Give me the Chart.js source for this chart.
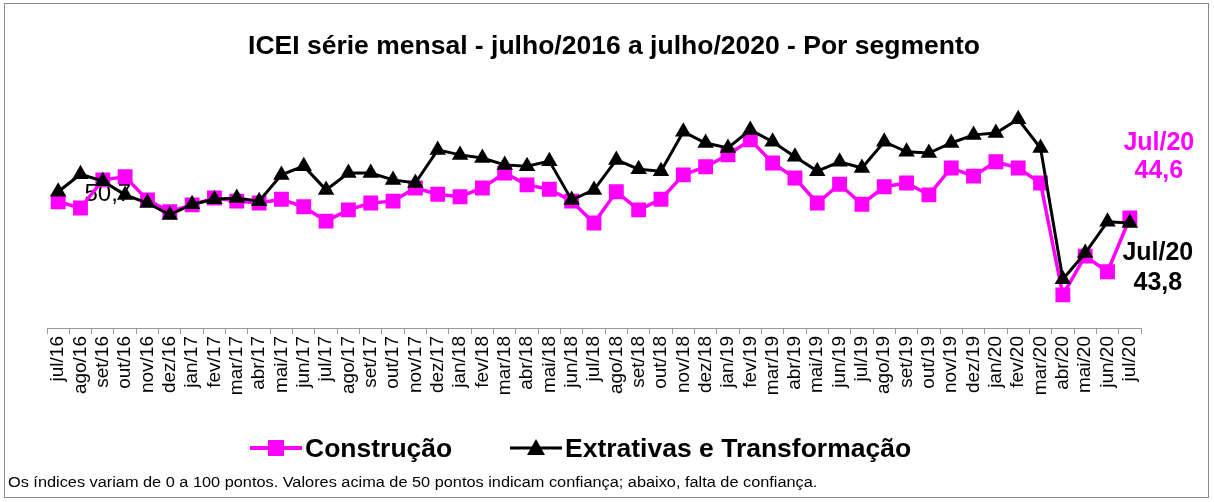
<!DOCTYPE html>
<html>
<head>
<meta charset="utf-8">
<script src="https://cdn.jsdelivr.net/npm/chart.js@4.4.1/dist/chart.umd.min.js"></script>
<style>
html,body{margin:0;padding:0;background:#fff;}
#wrap{position:relative;width:1214px;height:502px;overflow:hidden;font-family:"Liberation Sans",Arial,sans-serif;color:#000;}
#frame{position:absolute;left:4px;top:3px;width:1205px;height:495px;border:1px solid #8c8c8c;box-sizing:border-box;}
#c{position:absolute;left:0;top:0;}
#title{position:absolute;left:7px;width:1214px;top:29px;text-align:center;font-weight:bold;font-size:26.5px;white-space:nowrap;line-height:32px;}
.leg{position:absolute;top:433px;font-weight:bold;font-size:26.5px;white-space:nowrap;line-height:30px;}
.leg svg{position:absolute;top:3px;}
#note{position:absolute;left:8px;top:474px;font-size:14px;white-space:nowrap;transform:scaleX(1.165);transform-origin:0 0;}
</style>
</head>
<body>
<div id="wrap">
  <div id="frame"></div>
  <canvas id="c" width="1214" height="502"></canvas>
  <div id="title">ICEI série mensal - julho/2016 a julho/2020 - Por segmento</div>
  <div class="leg" style="left:248px;">
    <svg width="56" height="24" style="left:0"><line x1="2" y1="12" x2="54" y2="12" stroke="#FF00FF" stroke-width="4"/><rect x="20" y="4" width="16" height="16" fill="#FF00FF"/></svg>
    <span style="position:absolute;left:57px;">Construção</span>
  </div>
  <div class="leg" style="left:508px;">
    <svg width="56" height="24" style="left:0"><line x1="2" y1="12" x2="54" y2="12" stroke="#000" stroke-width="3"/><polygon points="28,3 37,19 19,19" fill="#000"/></svg>
    <span style="position:absolute;left:57px;">Extrativas e Transformação</span>
  </div>
  <div id="note">Os índices variam de 0 a 100 pontos. Valores acima de 50 pontos indicam confiança; abaixo, falta de confiança.</div>
</div>
<script>
const categories = ['jul/16','ago/16','set/16','out/16','nov/16','dez/16','jan/17','fev/17','mar/17','abr/17','mai/17','jun/17',
  'jul/17','ago/17','set/17','out/17','nov/17','dez/17','jan/18','fev/18','mar/18','abr/18','mai/18','jun/18',
  'jul/18','ago/18','set/18','out/18','nov/18','dez/18','jan/19','fev/19','mar/19','abr/19','mai/19','jun/19',
  'jul/19','ago/19','set/19','out/19','nov/19','dez/19','jan/20','fev/20','mar/20','abr/20','mai/20','jun/20','jul/20'];
const construcao = [47.2,46.2,50.7,51.2,47.5,45.6,46.7,47.8,47.3,47.0,47.6,46.4,
  44.1,45.9,47.0,47.3,49.4,48.4,48.0,49.4,51.8,49.9,49.2,47.3,
  43.8,48.8,45.9,47.6,51.5,52.8,54.7,57.1,53.4,51.0,47.0,50.0,
  46.8,49.6,50.2,48.3,52.6,51.3,53.6,52.6,50.2,32.3,38.5,36.0,44.6];
const extrativas = [48.8,51.6,50.5,48.3,47.0,45.1,46.8,47.6,47.8,47.3,51.5,52.9,
  49.1,51.8,51.8,50.7,50.2,55.5,54.7,54.2,53.1,52.9,53.7,47.5,
  49.1,53.9,52.4,52.1,58.4,56.6,55.8,58.7,56.8,54.4,52.1,53.6,
  52.6,56.8,55.2,55.0,56.6,57.9,58.2,60.4,55.8,34.8,39.0,44.0,43.8];
const seriesNames = ['Construção','Extrativas e Transformação'];
const pink = '#FF00FF';

const labelPlugin = {
  id: 'dataLabels',
  beforeDatasetsDraw(chart) {
    const ctx = chart.ctx;
    const p = chart.getDatasetMeta(0).data[2];
    ctx.save();
    ctx.font = '24px "Liberation Sans", Arial, sans-serif';
    ctx.fillStyle = '#000';
    ctx.textAlign = 'center';
    ctx.textBaseline = 'middle';
    ctx.fillText(String(construcao[2]).replace('.', ','), p.x + 5, p.y + 14);
    ctx.restore();
  },
  afterDatasetsDraw(chart) {
    const ctx = chart.ctx;
    const n = categories.length - 1;
    const pc = chart.getDatasetMeta(0).data[n];
    const pe = chart.getDatasetMeta(1).data[n];
    ctx.save();
    ctx.font = 'bold 25px "Liberation Sans", Arial, sans-serif';
    ctx.textAlign = 'center';
    ctx.textBaseline = 'middle';
    ctx.fillStyle = pink;
    ctx.fillText('Jul/20', pc.x + 29, pc.y - 75);
    ctx.fillText(String(construcao[n]).replace('.', ','), pc.x + 29, pc.y - 47);
    ctx.fillStyle = '#000';
    ctx.fillText('Jul/20', pe.x + 28, pe.y + 30);
    ctx.fillText(String(extrativas[n]).replace('.', ','), pe.x + 28, pe.y + 60);
    ctx.restore();
  }
};

new Chart(document.getElementById('c'), {
  type: 'line',
  data: {
    labels: categories,
    datasets: [
      {label: seriesNames[0], data: construcao, order: 1, borderColor: pink, backgroundColor: pink,
       borderWidth: 3.5, pointStyle: 'rect', pointRadius: 10.5, pointHoverRadius: 10.5,
       pointBackgroundColor: pink, pointBorderColor: pink, pointBorderWidth: 0, tension: 0},
      {label: seriesNames[1], data: extrativas, order: 0, borderColor: '#000', backgroundColor: '#000',
       borderWidth: 3, pointStyle: 'triangle', pointRadius: 9.5, pointHoverRadius: 9.5,
       pointBackgroundColor: '#000', pointBorderColor: '#000', pointBorderWidth: 0, tension: 0}
    ]
  },
  options: {
    responsive: false,
    animation: false,
    devicePixelRatio: 1,
    layout: {padding: {top: 90.5, left: 47, right: 73, bottom: 94}},
    plugins: {legend: {display: false}, title: {display: false}, tooltip: {enabled: false}},
    scales: {
      x: {
        offset: true,
        grid: {display: true, drawOnChartArea: false, drawTicks: true, tickLength: 6, offset: true, color: '#999'},
        border: {display: true, color: '#999', width: 1},
        ticks: {minRotation: 90, maxRotation: 90, autoSkip: false, color: '#000', padding: 2,
                font: {family: '"Liberation Sans", Arial, sans-serif', size: 19}},
        afterFit: s => { s.height = 80; }
      },
      y: {display: false, min: 27, max: 65}
    }
  },
  plugins: [labelPlugin]
});
</script>
</body>
</html>
